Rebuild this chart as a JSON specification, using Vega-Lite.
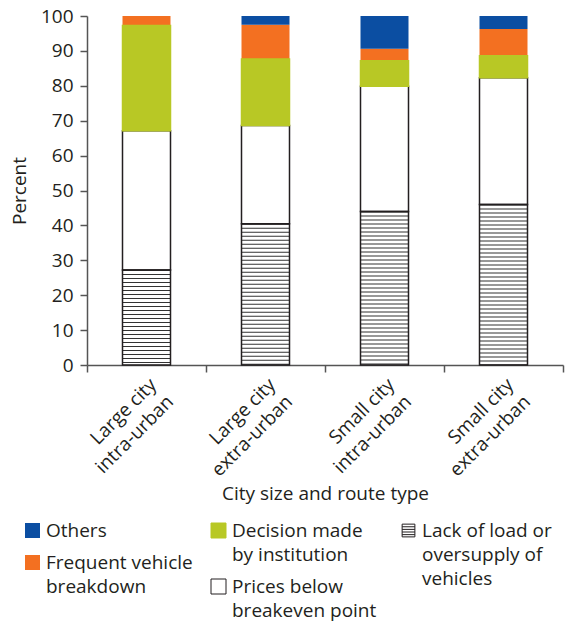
{
  "$schema": "https://vega.github.io/schema/vega-lite/v6.json",
  "width": 476,
  "height": 349,
  "autosize": "none",
  "padding": {"left": 87, "top": 16, "right": 2, "bottom": 264},
  "config": {
    "font": "Open Sans",
    "view": {"stroke": null},
    "style": {"guide-label": {"lineHeight": 24}},
    "axis": {
      "domainColor": "#555555", "domainWidth": 1.5,
      "tickColor": "#555555", "tickWidth": 1.5, "tickSize": 7,
      "labelColor": "#231f20", "titleColor": "#231f20",
      "labelFontSize": 19, "titleFontSize": 19, "titleFontWeight": "normal",
      "grid": false
    },
    "legend": {
      "title": null, "orient": "none", "direction": "vertical", "padding": 0,
      "rowPadding": 12, "symbolSize": 225, "symbolOffset": 0, "labelOffset": 4,
      "labelFontSize": 19, "labelColor": "#231f20", "labelLimit": 300,
      "symbolStrokeWidth": 1, "symbolType": "square"
    }
  },
  "data": {
    "values": [
      {"route": "Large city intra-urban", "cause": "Lack of load or oversupply of vehicles", "pct": 27.2},
      {"route": "Large city intra-urban", "cause": "Prices below breakeven point", "pct": 39.9},
      {"route": "Large city intra-urban", "cause": "Decision made by institution", "pct": 30.2},
      {"route": "Large city intra-urban", "cause": "Frequent vehicle breakdown", "pct": 2.7},
      {"route": "Large city intra-urban", "cause": "Others", "pct": 0},
      {"route": "Large city extra-urban", "cause": "Lack of load or oversupply of vehicles", "pct": 40.5},
      {"route": "Large city extra-urban", "cause": "Prices below breakeven point", "pct": 28.1},
      {"route": "Large city extra-urban", "cause": "Decision made by institution", "pct": 19.1},
      {"route": "Large city extra-urban", "cause": "Frequent vehicle breakdown", "pct": 9.8},
      {"route": "Large city extra-urban", "cause": "Others", "pct": 2.5},
      {"route": "Small city intra-urban", "cause": "Lack of load or oversupply of vehicles", "pct": 44.0},
      {"route": "Small city intra-urban", "cause": "Prices below breakeven point", "pct": 35.9},
      {"route": "Small city intra-urban", "cause": "Decision made by institution", "pct": 7.3},
      {"route": "Small city intra-urban", "cause": "Frequent vehicle breakdown", "pct": 3.4},
      {"route": "Small city intra-urban", "cause": "Others", "pct": 9.4},
      {"route": "Small city extra-urban", "cause": "Lack of load or oversupply of vehicles", "pct": 46.0},
      {"route": "Small city extra-urban", "cause": "Prices below breakeven point", "pct": 36.3},
      {"route": "Small city extra-urban", "cause": "Decision made by institution", "pct": 6.3},
      {"route": "Small city extra-urban", "cause": "Frequent vehicle breakdown", "pct": 7.7},
      {"route": "Small city extra-urban", "cause": "Others", "pct": 3.7}
    ]
  },
  "transform": [
    {"calculate": "indexof(['Lack of load or oversupply of vehicles','Prices below breakeven point','Decision made by institution','Frequent vehicle breakdown','Others'], datum.cause)", "as": "stackorder"},
    {"stack": "pct", "groupby": ["route"], "sort": [{"field": "stackorder", "order": "ascending"}], "as": ["v0", "v1"]}
  ],
  "encoding": {
    "x": {
      "field": "route", "type": "nominal", "sort": null,
      "scale": {"paddingInner": 0, "paddingOuter": 0},
      "axis": {
        "title": "City size and route type",
        "labelAngle": -45,
        "labelExpr": "datum.label ? [split(datum.label,' city ')[0] + ' city', split(datum.label,' city ')[1]] : ''",
        "labelLineHeight": 24,
        "tickBand": "extent",
        "labelPadding": 3,
        "titlePadding": 5
      }
    },
    "y": {
      "field": "v1", "type": "quantitative",
      "scale": {"domain": [0, 100], "nice": false},
      "axis": {"title": "Percent", "values": [0,10,20,30,40,50,60,70,80,90,100], "labelOverlap": false, "labelPadding": 7, "titlePadding": 11}
    },
    "y2": {"field": "v0"}
  },
  "layer": [
    {
      "transform": [{"filter": "datum.cause === 'Others' || datum.cause === 'Frequent vehicle breakdown'"}],
      "mark": {"type": "bar", "size": 48},
      "encoding": {
        "color": {
          "field": "cause", "type": "nominal",
          "scale": {"domain": ["Others", "Frequent vehicle breakdown"], "range": ["#0b4ea2", "#f37021"]},
          "legend": {
            "legendX": -64, "legendY": 505,
            "labelExpr": "datum.label === 'Frequent vehicle breakdown' ? ['Frequent vehicle','breakdown'] : datum.label"
          }
        }
      }
    },
    {
      "transform": [{"filter": "datum.cause === 'Decision made by institution' || datum.cause === 'Prices below breakeven point'"}],
      "mark": {"type": "bar", "size": 48, "strokeWidth": 1.5},
      "encoding": {
        "color": {
          "field": "cause", "type": "nominal",
          "scale": {"domain": ["Decision made by institution", "Prices below breakeven point"], "range": ["#b8c825", "#ffffff"]},
          "legend": {
            "legendX": 122, "legendY": 505,
            "labelExpr": "datum.label === 'Decision made by institution' ? ['Decision made','by institution'] : ['Prices below','breakeven point']"
          }
        },
        "stroke": {
          "field": "cause", "type": "nominal",
          "scale": {"domain": ["Decision made by institution", "Prices below breakeven point"], "range": ["#b8c825", "#231f20"]},
          "legend": {
            "legendX": 122, "legendY": 505,
            "labelExpr": "datum.label === 'Decision made by institution' ? ['Decision made','by institution'] : ['Prices below','breakeven point']"
          }
        }
      }
    },
    {
      "transform": [{"filter": "datum.cause === 'Lack of load or oversupply of vehicles'"}],
      "mark": {"type": "rule", "strokeWidth": 48, "strokeDash": [1, 3], "color": "#333333"},
      "encoding": {}
    },
    {
      "transform": [{"filter": "datum.cause === 'Lack of load or oversupply of vehicles'"}],
      "mark": {"type": "bar", "size": 48, "strokeWidth": 1.5, "fillOpacity": 0},
      "encoding": {
        "color": {
          "field": "cause", "type": "nominal",
          "scale": {"domain": ["Lack of load or oversupply of vehicles"], "range": ["#ffffff"]},
          "legend": {
            "legendX": 312, "legendY": 505,
            "symbolType": "M-0.85,-0.85H0.85V0.85H-0.85Z M-0.85,-0.5H0.85 M-0.85,-0.15H0.85 M-0.85,0.2H0.85 M-0.85,0.55H0.85",
            "labelExpr": "['Lack of load or','oversupply of','vehicles']"
          }
        },
        "stroke": {
          "field": "cause", "type": "nominal",
          "scale": {"domain": ["Lack of load or oversupply of vehicles"], "range": ["#231f20"]},
          "legend": {
            "legendX": 312, "legendY": 505,
            "symbolType": "M-0.85,-0.85H0.85V0.85H-0.85Z M-0.85,-0.5H0.85 M-0.85,-0.15H0.85 M-0.85,0.2H0.85 M-0.85,0.55H0.85",
            "labelExpr": "['Lack of load or','oversupply of','vehicles']"
          }
        }
      }
    }
  ],
  "resolve": {
    "scale": {"color": "independent", "stroke": "independent"},
    "legend": {"color": "independent", "stroke": "independent"}
  }
}
